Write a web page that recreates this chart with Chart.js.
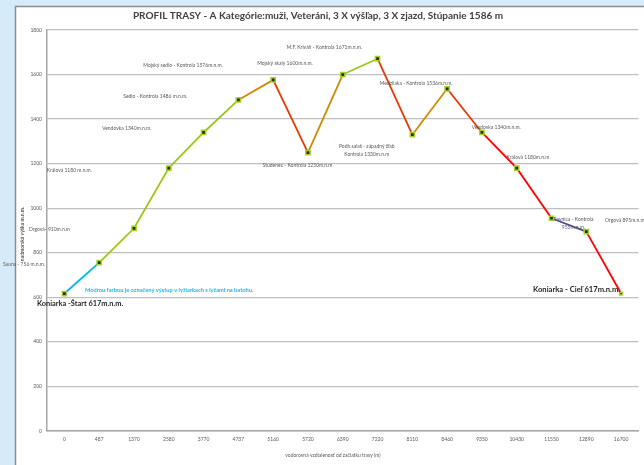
<!DOCTYPE html>
<html>
<head>
<meta charset="utf-8">
<script src="https://cdn.jsdelivr.net/npm/chart.js"></script>
<style>
  html, body { margin: 0; padding: 0; background: #d6ebf9; }
  canvas { display: block; }
</style>
</head>
<body>
<canvas id="profil" width="644" height="465"></canvas>
<script>
// vzdialenosti od startu (m) a nadmorske vysky (m n.m.)
const distances  = ['0','487','1370','2580','3770','4737','5160','5720','6390','7220','8110','8460','9350','10430','11550','12890','16700'];
const elevations = [617, 756, 910, 1180, 1340, 1486, 1576, 1250, 1600, 1671, 1330, 1536, 1340, 1180, 955, 895, 617];
const yTicks     = [0, 200, 400, 600, 800, 1000, 1200, 1400, 1600, 1800];

const titleText  = 'PROFIL TRASY - A Kategórie:muži, Veteráni, 3 X výšľap, 3 X zjazd, Stúpanie 1586 m';
const xTitle     = 'vodorovná vzdialenosť od začiatku trasy (m)';
const yTitle     = 'nadmorská výška m.n.m.';

// farba kazdeho useku trasy
const GREEN = '#9bc715', ORANGE = '#d08a00', REDOR = '#e43a00', RED = '#ff0000', BLUE = '#00b4f0', NAVY = '#4b4a9a';
const segColors = [BLUE, GREEN, GREEN, GREEN, GREEN, ORANGE, REDOR, ORANGE, GREEN, REDOR, ORANGE, REDOR, RED, RED, NAVY, RED];

// popisky: x = index kategorie, y = vyska (v jednotkach osi)
const notes = [
  { t: 'Sauna - 756 m.n.m.', x: -1.16, y: 750 },
  { t: 'Drgová- 910m.n.m', x: -0.43, y: 907 },
  { t: 'Králová 1180 m.n.m.', x: 0.14, y: 1171 },
  { t: 'Vendovka 1340m.n.m.', x: 1.79, y: 1360 },
  { t: 'Sedlo - Kontrola 1486 m.n.m.', x: 2.61, y: 1504 },
  { t: 'Mojský sedlo - Kontrola 1576m.n.m.', x: 3.41, y: 1643 },
  { t: 'Mojský skaly 1600m.n.m.', x: 6.34, y: 1652 },
  { t: 'M.F. Kriváň - Kontrola 1671m.n.m.', x: 7.47, y: 1724 },
  { t: 'Studenec - Kontrola 1250m.n.m', x: 6.70, y: 1194 },
  { t: 'Podh.salaš - západný žľab', x: 8.69, y: 1279 },
  { t: 'Kontrola 1330m.n.m', x: 8.69, y: 1243 },
  { t: 'Medzilaka - Kontrola 1536m.n.m.', x: 10.11, y: 1562 },
  { t: 'Vendovka 1340m.n.m.', x: 12.41, y: 1364 },
  { t: 'Králová 1180m.n.m', x: 13.32, y: 1230 },
  { t: 'Ravnica - Kontrola', x: 14.63, y: 951 },
  { t: '955m.n.m.', x: 14.63, y: 916 },
  { t: 'Orgová 895m.n.m.', x: 15.54, y: 947, align: 'left' },
  { t: 'Koniarka - Cieľ 617m.n.m.', x: 14.72, y: 633, bold: true, size: 7.6, color: '#262626' },
  { t: 'Koniarka -Štart 617m.n.m.', x: 0.45, y: 570, bold: true, size: 7.4, color: '#262626' },
  { t: 'Modrou farbou je označený výstup v lyžiarkach s lyžami na batohu.', x: 3.01, y: 633, bold: true, size: 5.7, color: '#1fb8f0' }
];

const FONT = 'Lato, "Open Sans", sans-serif';

const frame = {
  id: 'frame',
  beforeDraw(chart) {
    const c = chart.ctx;
    c.save();
    c.fillStyle = '#ffffff';
    c.fillRect(15, 6, chart.width - 15, chart.height - 6);
    c.strokeStyle = '#8c8c8c';
    c.lineWidth = 1.5;
    c.beginPath();
    c.moveTo(15.5, chart.height);
    c.lineTo(15.5, 6.5);
    c.lineTo(chart.width, 6.5);
    c.stroke();
    c.restore();
  },
  afterDraw(chart) {
    const c = chart.ctx, xs = chart.scales.x, ys = chart.scales.y;
    c.save();
    c.textBaseline = 'middle';
    c.textAlign = 'center';
    c.fillStyle = '#404040';
    c.font = 'bold 10px ' + FONT;
    c.fillText(titleText, 318, 16);
    c.fillStyle = '#595959';
    c.font = '5px ' + FONT;
    c.fillText(xTitle, 333, 455);
    c.save();
    c.translate(22, 234);
    c.rotate(-Math.PI / 2);
    c.font = 'bold 5px ' + FONT;
    c.fillText(yTitle, 0, 0);
    c.restore();
    notes.forEach(n => {
      c.font = (n.bold ? 'bold ' : '') + (n.size || 5) + 'px ' + FONT;
      c.fillStyle = n.color || '#595959';
      c.textAlign = n.align || 'center';
      c.fillText(n.t, xs.getPixelForValue(n.x), ys.getPixelForValue(n.y));
    });
    c.restore();
  }
};

const pointSizes = elevations.map((v, i) => i === elevations.length - 1 ? 2 : 3);

new Chart(document.getElementById('profil'), {
  type: 'line',
  data: {
    labels: distances,
    datasets: [{
      data: elevations,
      borderWidth: 1.8,
      borderColor: GREEN,
      segment: { borderColor: ctx => segColors[ctx.p0DataIndex] },
      pointStyle: 'rect',
      pointRadius: pointSizes,
      pointBorderWidth: 1.5,
      pointBorderColor: '#a4cf2a',
      pointBackgroundColor: '#2e2e05',
      tension: 0
    }]
  },
  options: {
    responsive: false,
    animation: false,
    layout: { padding: { top: 30, left: 0, right: 0, bottom: 0 } },
    plugins: { legend: { display: false }, tooltip: { enabled: false }, title: { display: false } },
    scales: {
      x: {
        type: 'category',
        offset: true,
        grid: { display: false, drawTicks: false },
        border: { color: '#a6a6a6', width: 1.5 },
        ticks: { color: '#595959', font: { size: 5, family: FONT }, padding: 5, maxRotation: 0, autoSkip: false },
        afterFit: s => { s.height = 34; }
      },
      y: {
        min: 0, max: 1800,
        afterBuildTicks: s => { s.ticks = yTicks.map(v => ({ value: v })); },
        grid: { color: '#bfbfbf', lineWidth: 1.3, drawTicks: false },
        border: { color: '#a6a6a6', width: 1.5 },
        ticks: { color: '#595959', font: { size: 5, family: FONT }, padding: 5, callback: v => String(v) },
        afterFit: s => { s.width = 47; }
      }
    }
  },
  plugins: [frame]
});
</script>
</body>
</html>
